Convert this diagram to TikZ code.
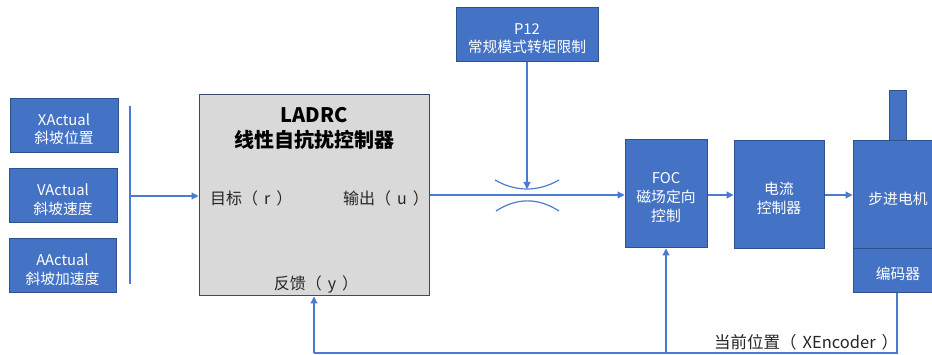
\documentclass[tikz,border=0pt]{standalone}
\usepackage{fontspec}
\setmainfont{Noto Sans CJK SC}
\usetikzlibrary{arrows.meta}
\definecolor{boxblue}{HTML}{4472C4}
\definecolor{boxedge}{HTML}{2F528F}
\definecolor{linecol}{HTML}{4A7BD0}
\definecolor{grayfill}{HTML}{D9D9D9}
\definecolor{grayedge}{HTML}{3B4A66}
\begin{document}
\begin{tikzpicture}[x=1pt,y=-1pt,
  bluebox/.style={draw=boxedge, fill=boxblue, line width=1pt, inner sep=0pt},
  boxtext/.style={text=white, align=center, font=\fontsize{14.8}{18.5}\selectfont, inner sep=0pt},
  graybox/.style={draw=grayedge, fill=grayfill, line width=1pt, inner sep=0pt},
  lbl/.style={font=\fontsize{16}{19}\selectfont, inner sep=0pt, text=black!85},
  conn/.style={draw=linecol, line width=1.2pt},
  arr/.style={conn, -{Triangle[length=7pt,width=7pt]}}
]
\useasboundingbox (0,0) rectangle (932,355);
\fill[white] (0,0) rectangle (932,355);

% input boxes
\node[bluebox, minimum width=108pt, minimum height=54pt] (xact) at (64,125.5) {};
\node[boxtext] (xactt) at (64,129) {XActual\\斜坡位置};
\node[bluebox, minimum width=108pt, minimum height=54pt] (vact) at (63,196) {};
\node[boxtext] (vactt) at (63,199.5) {VActual\\斜坡速度};
\node[bluebox, minimum width=107pt, minimum height=54pt] (aact) at (62.5,266) {};
\node[boxtext] (aactt) at (62.5,269.5) {AActual\\斜坡加速度};

% LADRC block
\node[graybox, minimum width=230pt, minimum height=201pt] (ladrc) at (314,195.5) {};
\node[font=\fontsize{20}{25}\selectfont\bfseries, align=center, inner sep=0pt] (ladrct) at (314,128.5) {LADRC\\线性自抗扰控制器};
\node[lbl, anchor=west] (tgt) at (210,198) {目标（\hspace{6pt}r\hspace{6pt}）};
\node[lbl, anchor=west] (out) at (343,198) {输出（\hspace{6pt}u\hspace{6pt}）};
\node[lbl] (fbl) at (316,285) {反馈（\hspace{6pt}y\hspace{6pt}）};

% limit box
\node[bluebox, minimum width=142pt, minimum height=54pt] (p12) at (527,35) {};
\node[boxtext] (p12t) at (527,38.5) {P12\\常规模式转矩限制};

% FOC chain
\node[bluebox, minimum width=82pt, minimum height=108pt] (foc) at (666,194) {};
\node[boxtext, font=\fontsize{14.8}{19}\selectfont] (foct) at (666,198) {FOC\\磁场定向\\控制};
\node[bluebox, minimum width=90pt, minimum height=108pt] (cur) at (779,195) {};
\node[boxtext, font=\fontsize{14.8}{19}\selectfont] (curt) at (779,198.5) {电流\\控制器};
\node[bluebox, minimum width=90pt, minimum height=108pt] (motor) at (898,195) {};
\node[boxtext] (motort) at (898,198.5) {步进电机};
\node[bluebox, minimum width=90pt, minimum height=44pt] (enc) at (898,271) {};
\node[boxtext] (enct) at (898,273.5) {编码器};
\node[bluebox, minimum width=17pt, minimum height=50pt] (shaft) at (897.5,116) {};

% bundle of inputs
\coordinate (bt) at (130,106);
\coordinate (bb) at (130,284);
\coordinate (bm) at (130,196);
\draw[conn] (bt) -- (bb);
\draw[arr] (bm) -- (bm -| ladrc.west);

% output to FOC
\coordinate (o1) at (ladrc.east |- 0,195);
\draw[arr] (o1) -- (o1 -| foc.west);

% limiter arcs
\coordinate (lima) at (527,189);
\draw[conn] (495,180) .. controls (516,192) and (538,192) .. (559,180);
\draw[conn] (496,211) .. controls (517,197.5) and (538,197.5) .. (559,211);
\draw[arr] (p12.south) -- (lima);

% chain arrows
\draw[arr] (foc.east |- 0,195) -- (cur.west |- 0,195);
\draw[arr] (cur.east |- 0,195) -- (motor.west |- 0,195);

% feedback
\coordinate (fb) at (897,353);
\draw[conn] (enc.south -| fb) -- (fb) -- (fb -| ladrc.south);
\draw[arr] (fb -| ladrc.south) -- (ladrc.south);
\draw[arr] (fb -| foc.south) -- (foc.south);
\node[lbl, anchor=west, font=\fontsize{16.5}{19}\selectfont] (pos) at (714,342) {当前位置（\hspace{6pt}XEncoder\hspace{6pt}）};
\end{tikzpicture}
\end{document}
